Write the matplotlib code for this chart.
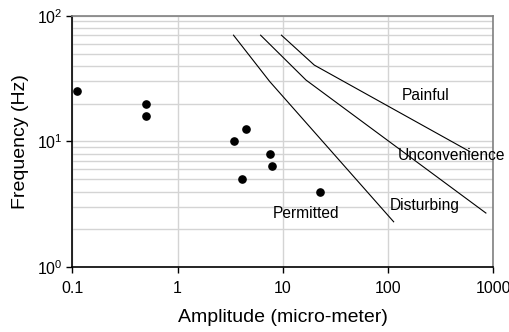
import matplotlib
matplotlib.use('Agg')
import matplotlib.pyplot as plt
from matplotlib.ticker import LogLocator, FixedLocator, NullLocator, NullFormatter

plt.rcParams['font.family'] = ['Liberation Sans', 'DejaVu Sans']
plt.rcParams['mathtext.fontset'] = 'custom'
plt.rcParams['mathtext.rm'] = 'Liberation Sans'
plt.rcParams['mathtext.default'] = 'regular'

# measured points
amplitude = [0.11, 0.5, 0.5, 3.45, 4.5, 4.1, 7.5, 7.9, 22.5]
frequency = [25, 20, 16, 10, 12.6, 5.0, 8.0, 6.35, 4.0]

# limit curves (amplitude, frequency)
permitted_x = [3.4, 7.5, 113]
permitted_y = [70, 30, 2.3]
disturbing_x = [6.15, 16.6, 850]
disturbing_y = [70, 30.8, 2.7]
unconv_x = [9.7, 19.9, 600]
unconv_y = [70, 40.5, 8.3]

zone_labels = ['Painful', 'Unconvenience', 'Disturbing', 'Permitted']
label_x = [134, 123, 104, 8.1]
label_y = [23.4, 7.8, 3.09, 2.69]

fig = plt.figure(figsize=(5.1, 3.32), dpi=100)
ax = fig.add_axes([0.1418, 0.1949, 0.8255, 0.7578])

ax.set_xscale('log')
ax.set_yscale('log')
ax.set_xlim(0.1, 1000)
ax.set_ylim(1, 100)

# grid: vertical only at decades, horizontal at every minor step
ax.xaxis.set_minor_locator(NullLocator())
ax.yaxis.set_minor_locator(LogLocator(base=10, subs=range(2, 10)))
ax.yaxis.set_minor_formatter(NullFormatter())
ax.grid(True, which='major', axis='both', color='#d4d4d4', linewidth=1.0)
ax.grid(True, which='minor', axis='y', color='#d4d4d4', linewidth=1.0)
ax.set_axisbelow(True)

ax.xaxis.set_major_locator(FixedLocator([0.1, 1, 10, 100, 1000]))
ax.set_xticklabels(['0.1', '1', '10', '100', '1000'])
ax.tick_params(axis='both', which='major', labelsize=11.5, length=4, width=1,
               color='black')
ax.tick_params(axis='x', which='major', pad=6)
ax.tick_params(axis='y', which='major', pad=3)
ax.tick_params(axis='y', which='minor', length=0)

for s in ['left', 'bottom']:
    ax.spines[s].set_color('black')
    ax.spines[s].set_linewidth(1.2)
for s in ['top', 'right']:
    ax.spines[s].set_color('#808080')
    ax.spines[s].set_linewidth(1.2)

for xs, ys in [(permitted_x, permitted_y), (disturbing_x, disturbing_y),
               (unconv_x, unconv_y)]:
    ax.plot(xs, ys, color='black', linewidth=0.8)

ax.plot(amplitude, frequency, 'o', color='black', markersize=5.2, zorder=3)

for t, x, y in zip(zone_labels, label_x, label_y):
    ax.text(x, y, t, fontsize=11.2, ha='left', va='center', clip_on=False)

ax.set_xlabel('Amplitude (micro-meter)', fontsize=14, labelpad=9)
ax.set_ylabel('Frequency (Hz)', fontsize=14, labelpad=6)

fig.savefig('out.png', dpi=100)
